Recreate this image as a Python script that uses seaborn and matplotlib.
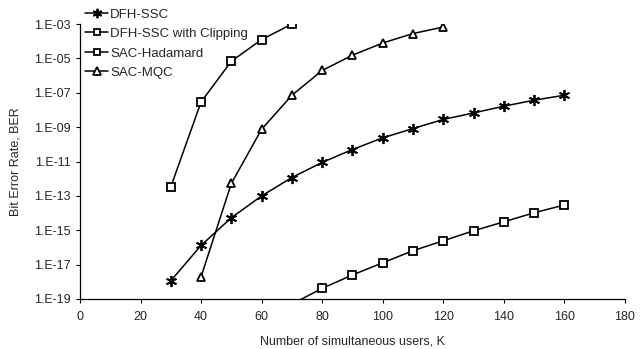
import numpy as np
import pandas as pd
import matplotlib
matplotlib.use("Agg")
import matplotlib.pyplot as plt
import seaborn as sns
from matplotlib.ticker import FixedLocator, FuncFormatter, NullLocator

# =========================
# Data (log10 of BER)
# =========================
users_dfh = [30, 40, 50, 60, 70, 80, 90, 100, 110, 120, 130, 140, 150, 160]
log_ber_dfh = [-17.94, -15.88, -14.27, -13.0, -11.93, -11.05, -10.3, -9.62,
               -9.08, -8.55, -8.17, -7.78, -7.43, -7.14]

users_clip = [70, 80, 90, 100, 110, 120, 130, 140, 150, 160]
log_ber_clip = [-19.3, -18.38, -17.6, -16.89, -16.19, -15.61, -15.03, -14.51,
                -13.98, -13.53]

users_had = [30, 40, 50, 60, 70]
log_ber_had = [-12.47, -7.53, -5.16, -3.9, -3.0]

users_mqc = [40, 50, 60, 70, 80, 90, 100, 110, 120]
log_ber_mqc = [-17.7, -12.27, -9.12, -7.14, -5.7, -4.81, -4.1, -3.55, -3.17]

series_names = ["DFH-SSC", "DFH-SSC with Clipping", "SAC-Hadamard", "SAC-MQC"]
x_ticks = [0, 20, 40, 60, 80, 100, 120, 140, 160, 180]
y_exponents = [-19, -17, -15, -13, -11, -9, -7, -5, -3]

frames = []
for name, xs, ys in zip(series_names,
                        [users_dfh, users_clip, users_had, users_mqc],
                        [log_ber_dfh, log_ber_clip, log_ber_had, log_ber_mqc]):
    frames.append(pd.DataFrame({"K": xs, "BER": 10.0 ** np.array(ys), "series": name}))
df = pd.concat(frames, ignore_index=True)

# =========================
# Plot
# =========================
sns.set_style("ticks")
plt.rcParams["font.family"] = ["Liberation Sans", "DejaVu Sans"]

fig = plt.figure(figsize=(6.41, 3.49), dpi=100)
ax = fig.add_axes([0.1248, 0.1433, 0.8502, 0.7877])

markers = {"DFH-SSC": (6, 2, 0), "DFH-SSC with Clipping": "s",
           "SAC-Hadamard": "s", "SAC-MQC": "^"}
msizes = {"DFH-SSC": 8, "DFH-SSC with Clipping": 5.5,
          "SAC-Hadamard": 5.5, "SAC-MQC": 6}

for name in series_names:
    sub = df[df["series"] == name]
    sns.lineplot(data=sub, x="K", y="BER", color="black", marker=markers[name],
                 markersize=msizes[name], markerfacecolor="white",
                 markeredgecolor="black", markeredgewidth=1.3,
                 linewidth=1.1, label=name, ax=ax)

ax.set_yscale("log")
ax.set_xlim(0, 180)
ax.set_ylim(1e-19, 1e-3)
ax.xaxis.set_major_locator(FixedLocator(x_ticks))
ax.yaxis.set_major_locator(FixedLocator([10.0 ** e for e in y_exponents]))
ax.yaxis.set_minor_locator(NullLocator())
ax.yaxis.set_major_formatter(FuncFormatter(lambda v, p: "1.E-%02d" % round(-np.log10(v))))

ax.tick_params(axis="both", labelsize=9, length=3, width=0.8, color="black")
ax.tick_params(axis="x", pad=6)
sns.despine(ax=ax)
for s in ["left", "bottom"]:
    ax.spines[s].set_linewidth(0.9)
    ax.spines[s].set_color("black")

ax.set_xlabel("Number of simultaneous users, K", fontsize=9, labelpad=9)
ax.set_ylabel("Bit Error Rate, BER", fontsize=9, labelpad=9)

handles, labels = ax.get_legend_handles_labels()
ax.legend(handles, labels, loc="upper left", bbox_to_anchor=(0.1326, 0.976),
          bbox_transform=fig.transFigure, frameon=False, fontsize=9.5,
          handlelength=1.75, handletextpad=0.15, labelspacing=0.55,
          borderaxespad=0.0, borderpad=0.0, markerscale=0.85)

plt.savefig("out.png", dpi=100)
